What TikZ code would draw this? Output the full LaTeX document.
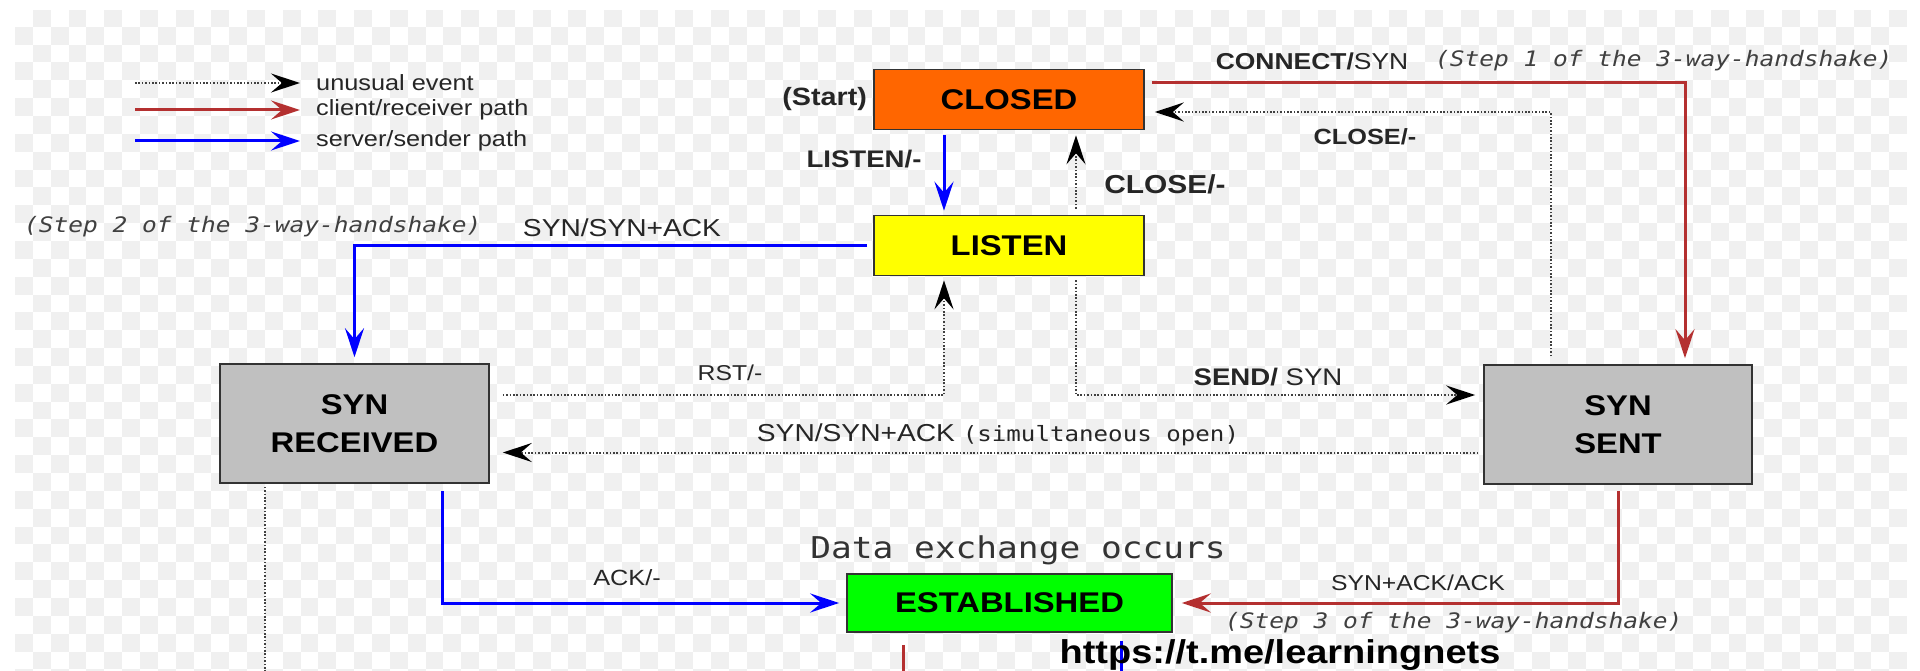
\documentclass[tikz,border=0pt]{standalone}
\usepackage{fontspec}
\setmainfont[FakeStretch=1.15]{Liberation Sans}
\setmonofont[FakeStretch=1.15]{DejaVu Sans Mono}
\usepackage{xcolor}
\usepackage{tikz}
\usetikzlibrary{arrows.meta,positioning}

\definecolor{clientred}{RGB}{180,48,48}
\definecolor{serverblue}{RGB}{0,0,255}
\definecolor{closedorange}{RGB}{255,102,0}
\definecolor{listenyellow}{RGB}{255,255,0}
\definecolor{synsgray}{RGB}{192,192,192}
\definecolor{estabgreen}{RGB}{0,255,0}
\definecolor{checkgray}{RGB}{240,240,240}
\newcommand{\fsz}[1]{\fontsize{#1}{38}\selectfont}

\tikzset{
	statebox/.style={draw=black!80, line width=1.6pt, minimum width=270pt, minimum height=60pt, font=\fsz{28.5}\bfseries, align=center},
	lbl/.style={inner sep=0pt, text=black!85},
	hsk/.style={inner sep=0pt, text=black!75, font=\fsz{21.3}\ttfamily\itshape},
	arrowhd/.style={-{Stealth[length=29pt,width=19pt,inset=11pt]}},
	unusual/.style={-{Stealth[length=29pt,width=19pt,inset=11pt,color=black]}, draw=black!75, line width=2pt, dash pattern=on 1.6pt off 1.8pt},
	clientpath/.style={arrowhd, draw=clientred, line width=3pt},
	serverpath/.style={arrowhd, draw=serverblue, line width=3pt},
}

\begin{document}
\begin{tikzpicture}[x=1pt,y=-1pt]
	\clip (0,0) rectangle (1920,671);
	\fill[white] (0,0) rectangle (1920,671);
	% checker background
	\begin{scope}
		\clip (15,11) rectangle (1907,671);
		\foreach \j in {0,...,37}{
			\pgfmathtruncatemacro\off{1-mod(\j,2)}
			\foreach \i in {0,2,...,104}
				\fill[checkgray] ({15+(\i+\off)*17.85},{8.9+\j*17.85}) rectangle +(17.85,17.85);
		}
	\end{scope}

	% states
	\node[statebox, fill=closedorange] (closed) at (1009,99.5) {CLOSED};
	\node[statebox, fill=listenyellow] (listen) at (1009,245.5) {LISTEN};
	\node[statebox, fill=synsgray, minimum width=269pt, minimum height=119pt] (synrcvd) at (354.5,423.5) {SYN\\RECEIVED};
	\node[statebox, fill=synsgray, minimum width=268pt, minimum height=119pt] (synsent) at (1618,424.5) {SYN\\SENT};
	\node[statebox, fill=estabgreen, minimum width=325pt, minimum height=58pt] (estab) at (1009.5,603) {ESTABLISHED};

	% legend
	\node[lbl, font=\fsz{22}, anchor=west] (lgunusual) at (316,83) {unusual event};
	\node[lbl, font=\fsz{22}, anchor=west] (lgclient) at (316,110) {client/receiver path};
	\node[lbl, font=\fsz{22}, anchor=west] (lgserver) at (316,141) {server/sender path};
	\draw[unusual] ([xshift=-181pt]lgunusual.west) -- ([xshift=-16pt]lgunusual.west);
	\draw[clientpath] ([xshift=-181pt]lgclient.west) -- ([xshift=-16pt]lgclient.west);
	\draw[serverpath] ([xshift=-181pt]lgserver.west) -- ([xshift=-16pt]lgserver.west);

	% labels
	\node[lbl, font=\fsz{25}\bfseries, left=6pt of closed] (start) {(Start)};
	\node[lbl, font=\fsz{23}] (connectlbl) at (1312,61) {\textbf{CONNECT/}SYN};
	\node[hsk, anchor=west] (step1) at (1435,61) {(Step 1 of the 3-way-handshake)};
	\node[lbl, font=\fsz{22}\bfseries] (closelbla) at (1365,137) {CLOSE/-};
	\node[lbl, font=\fsz{24}\bfseries] (listenlbl) at (864,159) {LISTEN/-};
	\node[lbl, font=\fsz{26}\bfseries] (closelblb) at (1165,184) {CLOSE/-};
	\node[lbl, font=\fsz{24.5}] (synacklbl) at (622,228) {SYN/SYN+ACK};
	\node[hsk, anchor=west] (step2) at (24,227) {(Step 2 of the 3-way-handshake)};
	\node[lbl, font=\fsz{21.5}] (rstlbl) at (730,373) {RST/-};
	\node[lbl, font=\fsz{24}] (sendlbl) at (1268,377) {\textbf{SEND/} SYN};
	\node[lbl, font=\fsz{24.5}] (simlbl) at (998,435) {SYN/SYN+ACK {\fsz{21}\ttfamily(simultaneous open)}};
	\node[lbl, font=\fsz{22}] (acklbl) at (627,578) {ACK/-};
	\node[lbl, font=\fsz{21.5}] (synackacklbl) at (1418,583) {SYN+ACK/ACK};
	\node[hsk, anchor=west] (step3) at (1225,623) {(Step 3 of the 3-way-handshake)};
	\node[lbl, font=\fsz{30}\ttfamily, text=black!80] (datalbl) at (1018,550) {Data exchange occurs};

	% transitions
	\draw[clientpath] ([xshift=7pt,yshift=16.5pt]closed.east) -| ([xshift=67pt,yshift=6pt]synsent.north);
	\draw[unusual] ([xshift=-67pt,yshift=8pt]synsent.north) |- ([xshift=10pt,yshift=-12.5pt]closed.east);
	\draw[serverpath] ([xshift=-65pt,yshift=-5pt]closed.south) -- ([xshift=-65pt,yshift=4pt]listen.north);
	\draw[unusual] ([xshift=67pt,yshift=6pt]listen.north) -- ([xshift=67pt,yshift=-5pt]closed.south);
	\draw[serverpath] ([xshift=-6pt]listen.west) -| ([yshift=6pt]synrcvd.north);
	\draw[unusual] ([xshift=13pt,yshift=28.5pt]synrcvd.east) -| ([xshift=-65pt,yshift=-4pt]listen.south);
	\draw[unusual] ([xshift=67pt,yshift=-4pt]listen.south) |- ([xshift=-8pt,yshift=29.5pt]synsent.west);
	\draw[unusual] ([xshift=-5pt,yshift=-28pt]synsent.west) -- ([xshift=13pt,yshift=-29pt]synrcvd.east);
	\draw[serverpath] ([xshift=87.5pt,yshift=-7pt]synrcvd.south) |- ([xshift=-7pt]estab.west);
	\draw[clientpath] ([yshift=-6pt]synsent.south) |- ([xshift=9pt]estab.east);

	% leaving the picture
	\coordinate (rcvdexit) at (265,690);
	\coordinate (estabred) at (903,690);
	\coordinate (estabblue) at (1121,690);
	\draw[unusual, -] ([xshift=-89.5pt,yshift=-3pt]synrcvd.south) -- (rcvdexit);
	\draw[clientpath, -] ([xshift=-106.5pt,yshift=-12pt]estab.south) -- (estabred);
	\draw[serverpath, -] ([xshift=111.5pt,yshift=-8pt]estab.south) -- (estabblue);

	\node[lbl, font=\fsz{33}\bfseries, text=black] (url) at (1280,655) {https://t.me/learningnets};
\end{tikzpicture}
\end{document}
